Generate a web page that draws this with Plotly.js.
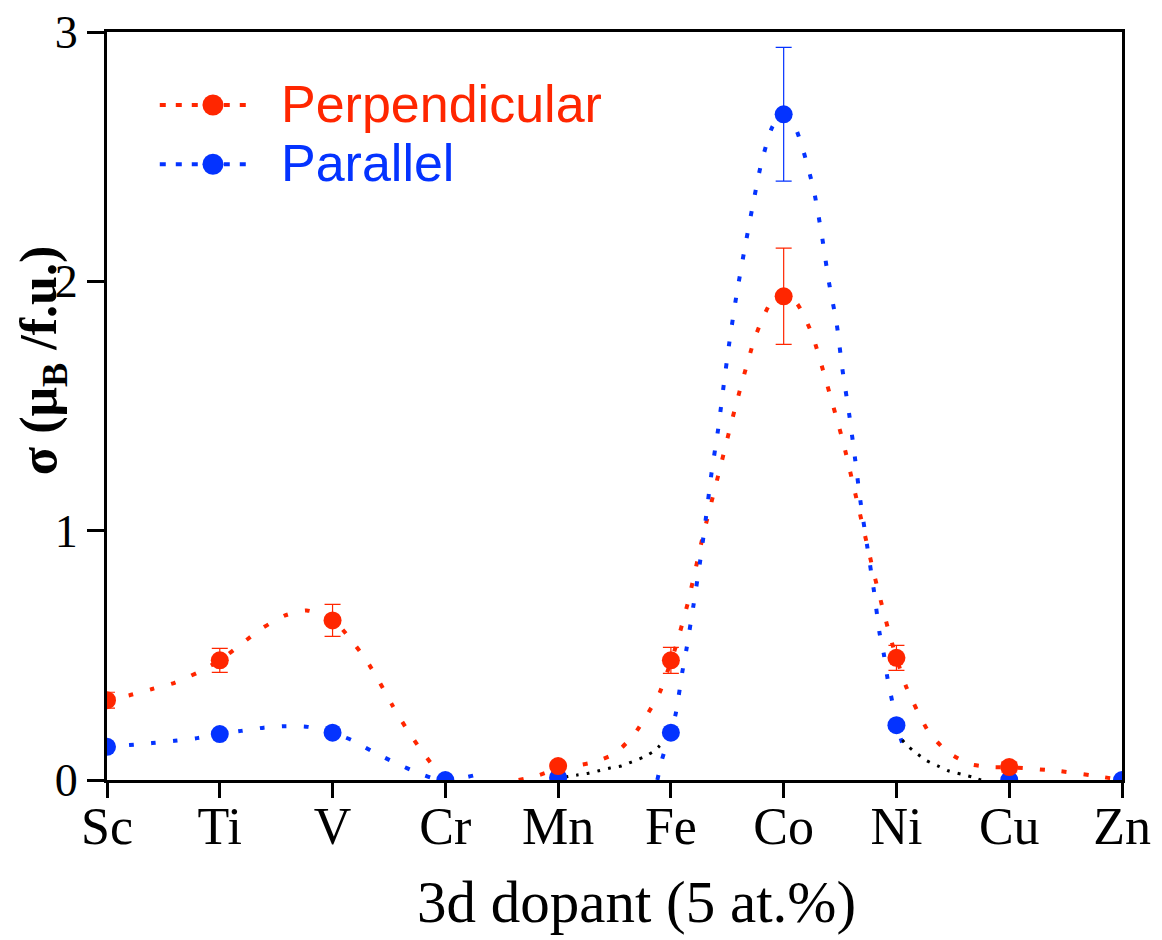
<!DOCTYPE html>
<html>
<head>
<meta charset="utf-8">
<script src="https://cdn.plot.ly/plotly-3.0.1.min.js"></script>
<style>html,body{margin:0;padding:0;background:#fff;}#chart{width:1162px;height:940px;}</style>
</head>
<body>
<div id="chart"></div>
<script>
// Categories (3d dopants)
const categories = ["Sc","Ti","V","Cr","Mn","Fe","Co","Ni","Cu","Zn"];
const catIndex = [0,1,2,3,4,5,6,7,8,9];

// Measured values (mu_B / f.u.)
const perpValues = [0.32, 0.48, 0.64, null, 0.056, 0.48, 1.94, 0.49, 0.052, null];
const perpErrors = [0.032, 0.048, 0.064, 0, 0.01, 0.052, 0.193, 0.05, 0.02, 0];
const paraValues = [0.133, 0.184, 0.19, 0.0, 0.01, 0.19, 2.67, 0.22, 0.0, 0.0];
const paraErrors = [0, 0, 0, 0, 0, 0, 0.268, 0, 0, 0];

// Guide/fit curves (x in category index units)
const perpFitAx = [0,0.2,0.4,0.6,0.8,1.0,1.19,1.38,1.58,1.77,2.0,2.15,2.3,2.42,2.53,2.65,2.77,2.92,3.0];
const perpFitAy = [0.32,0.34,0.365,0.39,0.43,0.48,0.545,0.61,0.66,0.68,0.645,0.57,0.48,0.39,0.30,0.21,0.13,0.04,0.0];
const perpFitBx = [3.65,3.8,4.0,4.3,4.5,4.67,4.8,4.9,5.04,5.15,5.28,5.43,5.58,5.75,5.88,6.0,6.12,6.25,6.37,6.53,6.67,6.81,6.96,7.09,7.29,7.46,7.65,7.85,8.04,8.44,8.83,9.0];
const perpFitBy = [0.0,0.015,0.045,0.07,0.105,0.18,0.27,0.35,0.53,0.71,0.97,1.24,1.51,1.78,1.91,1.95,1.91,1.79,1.61,1.35,1.08,0.81,0.55,0.37,0.19,0.11,0.064,0.052,0.05,0.036,0.012,0.0];
const paraFitAx = [0,0.2,0.4,0.6,0.8,1.0,1.19,1.39,1.58,1.78,2.0,2.17,2.36,2.56,2.76,2.95,3.15,3.34];
const paraFitAy = [0.133,0.14,0.148,0.157,0.168,0.184,0.197,0.21,0.216,0.213,0.19,0.16,0.113,0.068,0.028,0.0,0.008,0.028];
const paraFitBx = [4.88,4.92,5.04,5.1,5.14,5.2,5.26,5.31,5.36,5.42,5.47,5.52,5.58,5.65,5.72,5.8,5.9,6.0,6.1,6.17,6.22,6.27,6.34,6.4,6.47,6.52,6.58,6.63,6.68,6.74,6.8,6.85,6.89,6.92,6.96,7.0,7.05];
const paraFitBy = [0.0,0.08,0.26,0.43,0.53,0.70,0.88,1.05,1.23,1.41,1.59,1.76,1.94,2.12,2.29,2.47,2.62,2.67,2.62,2.53,2.45,2.36,2.18,2.0,1.83,1.65,1.47,1.30,1.12,0.94,0.76,0.59,0.50,0.41,0.32,0.22,0.15];
const tailFitAx = [4.06,4.17,4.27,4.36,4.46,4.56,4.65,4.75,4.85,4.95];
const tailFitAy = [0.012,0.02,0.027,0.037,0.048,0.056,0.072,0.09,0.116,0.16];
const tailFitBx = [7.0,7.07,7.17,7.27,7.37,7.46,7.57,7.67,7.75];
const tailFitBy = [0.2,0.15,0.11,0.077,0.056,0.037,0.024,0.012,0.0];

const yTicks = [0,1,2,3];
const seriesNames = ["Perpendicular", "Parallel"];

const RED = "#ff2600";
const BLUE = "#0433ff";
const dotted = "5px,17px";

function fit(x, y, color, dash, width) {
  return {x: x, y: y, type: "scatter", mode: "lines", showlegend: false, hoverinfo: "skip",
          line: {color: color, width: width || 4, dash: dash || dotted, shape: "spline", smoothing: 0.6}};
}

const traces = [
  fit(perpFitAx, perpFitAy, RED),
  fit(perpFitBx, perpFitBy, RED),
  fit(paraFitAx, paraFitAy, BLUE),
  fit(paraFitBx, paraFitBy, BLUE),
  fit(tailFitAx, tailFitAy, "#000000", "3px,8px", 3),
  fit(tailFitBx, tailFitBy, "#000000", "3px,8px", 3),
  {x: catIndex, y: paraValues, type: "scatter", mode: "markers", name: seriesNames[1], showlegend: false,
   marker: {color: BLUE, size: 18},
   error_y: {type: "data", array: paraErrors, visible: true, color: BLUE, thickness: 1.2, width: 8}},
  {x: catIndex, y: perpValues, type: "scatter", mode: "markers", name: seriesNames[0], showlegend: false,
   marker: {color: RED, size: 18},
   error_y: {type: "data", array: perpErrors, visible: true, color: RED, thickness: 1.2, width: 8}}
];

// Custom legend (layout geometry, paper coordinates)
const legRows = [{y: 0.9024, color: RED, name: seriesNames[0]}, {y: 0.8232, color: BLUE, name: seriesNames[1]}];
const shapes = [];
const annotations = [];
legRows.forEach(r => {
  shapes.push({type: "line", xref: "paper", yref: "paper", x0: 0.052, x1: 0.146, y0: r.y, y1: r.y,
               line: {color: r.color, width: 4, dash: "6px,10px"}});
  shapes.push({type: "circle", xref: "paper", yref: "paper", xsizemode: "pixel", ysizemode: "pixel",
               xanchor: 0.1044, yanchor: r.y, x0: -10.5, x1: 10.5, y0: -10.5, y1: 10.5,
               fillcolor: r.color, line: {width: 0}});
  annotations.push({text: r.name, xref: "paper", yref: "paper", x: 0.169, y: r.y + 0.001,
                    xanchor: "left", yanchor: "middle", showarrow: false,
                    font: {family: "Liberation Sans, Arial, sans-serif", size: 52, color: r.color}});
});

const serif = "Liberation Serif, Times New Roman, serif";
annotations.push(
  {text: "3d dopant (5 at.%)", xref: "paper", yref: "paper", x: 0.522, y: -0.163,
   xanchor: "center", yanchor: "middle", showarrow: false,
   font: {family: serif, size: 59, color: "#000"}},
  {text: "<b>σ (μ<sub>B</sub> /f.u.)</b>", xref: "paper", yref: "paper", x: -0.064, y: 0.56,
   xanchor: "center", yanchor: "middle", showarrow: false, textangle: -90,
   font: {family: serif, size: 52, color: "#000"}}
);

const layout = {
  width: 1162, height: 940,
  margin: {l: 107, r: 40, t: 32, b: 160},
  paper_bgcolor: "#fff", plot_bgcolor: "#fff",
  showlegend: false,
  shapes: shapes,
  annotations: annotations,
  xaxis: {range: [0, 9], tickmode: "array", tickvals: catIndex, ticktext: categories,
          showgrid: false, zeroline: false, showline: true, linewidth: 3, linecolor: "#000",
          mirror: true, ticks: "outside", ticklen: 15, tickwidth: 3, tickcolor: "#000",
          ticklabelstandoff: -16,
          tickfont: {family: serif, size: 52, color: "#000"}},
  yaxis: {range: [0, 3], tickmode: "array", tickvals: yTicks,
          showgrid: false, zeroline: false, showline: true, linewidth: 3, linecolor: "#000",
          mirror: true, ticks: "outside", ticklen: 17, tickwidth: 3, tickcolor: "#000",
          tickfont: {family: serif, size: 46, color: "#000"}}
};

Plotly.newPlot("chart", traces, layout, {displayModeBar: false, staticPlot: true});
</script>
</body>
</html>
